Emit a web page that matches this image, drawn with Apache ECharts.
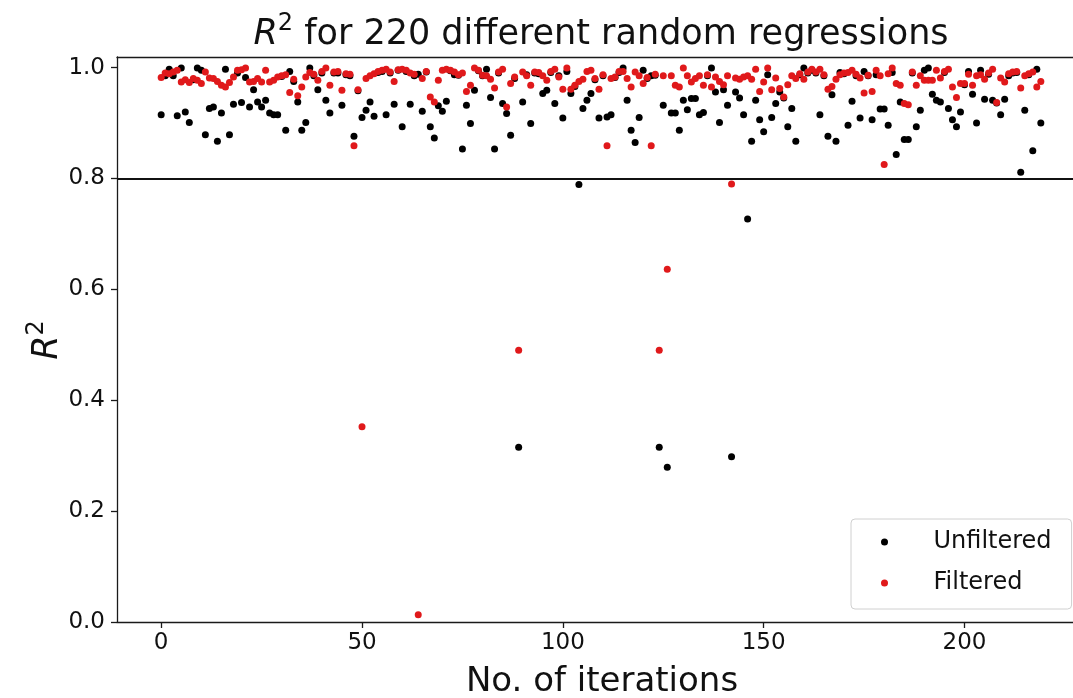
<!DOCTYPE html>
<html>
<head>
<meta charset="utf-8">
<script src="https://cdn.jsdelivr.net/npm/echarts@6/dist/echarts.min.js"></script>
<style>
  html, body { margin: 0; padding: 0; background: #ffffff; }
  #chart { width: 1073px; height: 698px; }
</style>
</head>
<body>
<div id="chart"></div>
<script>
// R^2 of each regression run, before and after filtering
const unfiltered = [
  0.915, 0.985, 0.997, 0.985, 0.913, 0.999, 0.920, 0.901, 0.978, 0.999,
  0.995, 0.879, 0.926, 0.929, 0.867, 0.918, 0.997, 0.879, 0.934, 0.990,
  0.937, 0.982, 0.929, 0.960, 0.938, 0.929, 0.941, 0.918, 0.915, 0.915,
  0.984, 0.887, 0.993, 0.975, 0.938, 0.887, 0.901, 0.999, 0.985, 0.960,
  0.990, 0.941, 0.918, 0.990, 0.990, 0.932, 0.987, 0.985, 0.876, 0.958,
  0.910, 0.923, 0.938, 0.912, 0.991, 0.993, 0.915, 0.990, 0.934, 0.995,
  0.893, 0.993, 0.934, 0.985, 0.988, 0.921, 0.992, 0.893, 0.873, 0.931,
  0.921, 0.939, 0.994, 0.987, 0.986, 0.853, 0.932, 0.899, 0.959, 0.994,
  0.985, 0.997, 0.946, 0.853, 0.990, 0.935, 0.917, 0.878, 0.980, 0.315,
  0.938, 0.987, 0.899, 0.990, 0.989, 0.953, 0.959, 0.991, 0.935, 0.985,
  0.909, 0.993, 0.953, 0.966, 0.789, 0.926, 0.941, 0.953, 0.978, 0.909,
  0.985, 0.911, 0.915, 0.982, 0.991, 0.999, 0.941, 0.887, 0.865, 0.910,
  0.995, 0.980, 0.985, 0.986, 0.315, 0.932, 0.279, 0.918, 0.918, 0.887,
  0.941, 0.924, 0.944, 0.944, 0.915, 0.919, 0.985, 0.999, 0.956, 0.901,
  0.960, 0.932, 0.298, 0.956, 0.945, 0.915, 0.727, 0.867, 0.941, 0.906,
  0.884, 0.987, 0.910, 0.935, 0.956, 0.945, 0.893, 0.926, 0.867, 0.987,
  0.999, 0.990, 0.995, 0.990, 0.915, 0.985, 0.876, 0.951, 0.867, 0.991,
  0.989, 0.896, 0.939, 0.985, 0.909, 0.993, 0.985, 0.906, 0.987, 0.925,
  0.925, 0.896, 0.991, 0.843, 0.938, 0.870, 0.870, 0.990, 0.893, 0.923,
  0.995, 0.999, 0.952, 0.941, 0.938, 0.991, 0.926, 0.906, 0.893, 0.920,
  0.969, 0.993, 0.952, 0.900, 0.995, 0.943, 0.988, 0.941, 0.936, 0.915,
  0.943, 0.985, 0.990, 0.991, 0.811, 0.923, 0.987, 0.850, 0.997, 0.900
];
const filtered = [
  0.982, 0.990, 0.989, 0.992, 0.995, 0.974, 0.978, 0.973, 0.980, 0.977,
  0.971, 0.992, 0.981, 0.980, 0.975, 0.968, 0.965, 0.973, 0.983, 0.995,
  0.996, 0.999, 0.974, 0.975, 0.980, 0.974, 0.995, 0.974, 0.977, 0.983,
  0.985, 0.987, 0.955, 0.979, 0.949, 0.965, 0.983, 0.991, 0.988, 0.977,
  0.993, 0.999, 0.968, 0.992, 0.993, 0.959, 0.989, 0.988, 0.859, 0.960,
  0.352, 0.980, 0.985, 0.989, 0.993, 0.995, 0.997, 0.992, 0.975, 0.996,
  0.997, 0.995, 0.990, 0.988, 0.013, 0.980, 0.993, 0.947, 0.938, 0.977,
  0.995, 0.997, 0.995, 0.992, 0.987, 0.990, 0.957, 0.968, 0.999, 0.995,
  0.986, 0.985, 0.979, 0.963, 0.992, 0.997, 0.929, 0.971, 0.983, 0.490,
  0.992, 0.985, 0.968, 0.992, 0.991, 0.985, 0.977, 0.993, 0.997, 0.983,
  0.961, 0.999, 0.961, 0.968, 0.975, 0.979, 0.993, 0.995, 0.980, 0.961,
  0.987, 0.859, 0.980, 0.983, 0.993, 0.993, 0.980, 0.965, 0.992, 0.985,
  0.971, 0.982, 0.859, 0.988, 0.490, 0.985, 0.636, 0.985, 0.968, 0.965,
  0.999, 0.985, 0.974, 0.980, 0.985, 0.968, 0.987, 0.965, 0.983, 0.975,
  0.969, 0.985, 0.790, 0.981, 0.979, 0.983, 0.985, 0.979, 0.997, 0.957,
  0.974, 0.999, 0.960, 0.981, 0.962, 0.947, 0.969, 0.985, 0.980, 0.989,
  0.979, 0.992, 0.997, 0.992, 0.997, 0.987, 0.961, 0.966, 0.979, 0.987,
  0.990, 0.991, 0.995, 0.988, 0.981, 0.954, 0.986, 0.957, 0.995, 0.985,
  0.825, 0.989, 0.999, 0.971, 0.968, 0.935, 0.933, 0.992, 0.968, 0.985,
  0.977, 0.977, 0.977, 0.995, 0.981, 0.993, 0.997, 0.965, 0.946, 0.971,
  0.971, 0.988, 0.968, 0.985, 0.987, 0.979, 0.990, 0.997, 0.937, 0.981,
  0.974, 0.989, 0.992, 0.993, 0.963, 0.985, 0.989, 0.992, 0.965, 0.975
];
// iteration number of each run
const iterations = unfiltered.map((_, i) => i);

const xTicks = [0, 50, 100, 150, 200];
const yTicks = [0.0, 0.2, 0.4, 0.6, 0.8, 1.0];
const threshold = 0.8;

const FONT = 'DejaVu Sans';
const INK = '#1a1a1a';
const X_MIN = -11, X_MAX = 230, Y_MIN = 0, Y_MAX = 1.019;

const chart = echarts.init(document.getElementById('chart'), null, { renderer: 'canvas' });

const frameLine = { show: true, onZero: false, lineStyle: { color: INK, width: 1.3 } };

chart.setOption({
  animation: false,
  backgroundColor: '#ffffff',
  grid: {
    left: 117, right: -12, top: 57, bottom: 76,
    outerBoundsMode: 'none', containLabel: false
  },
  xAxis: [
    {
      type: 'value', min: X_MIN, max: X_MAX, position: 'bottom',
      axisLine: frameLine,
      axisTick: { show: true, customValues: xTicks, length: 6, lineStyle: { color: INK, width: 1.3 } },
      axisLabel: { customValues: xTicks, fontSize: 23, color: '#111', fontFamily: FONT, margin: 10 },
      splitLine: { show: false }
    },
    {
      // top edge of the frame
      type: 'value', min: X_MIN, max: X_MAX, position: 'top',
      axisLine: frameLine,
      axisTick: { show: false }, axisLabel: { show: false }, splitLine: { show: false }
    }
  ],
  yAxis: {
    type: 'value', min: Y_MIN, max: Y_MAX, position: 'left',
    axisLine: frameLine,
    axisTick: { show: true, customValues: yTicks, length: 6, lineStyle: { color: INK, width: 1.3 } },
    axisLabel: {
      customValues: yTicks, fontSize: 23, color: '#111', fontFamily: FONT, margin: 12,
      formatter: v => v.toFixed(1)
    },
    splitLine: { show: false }
  },
  legend: {
    orient: 'vertical', left: 851, top: 519,
    padding: [9, 20, 12, 30],
    itemWidth: 14, itemHeight: 7, itemGap: 13,
    icon: 'circle',
    backgroundColor: '#ffffff', borderColor: '#d0d0d0', borderWidth: 1, borderRadius: 4,
    textStyle: { fontSize: 24, color: '#111', fontFamily: FONT, lineHeight: 28, padding: [0, 0, 0, 37] },
    data: ['Unfiltered', 'Filtered']
  },
  series: [
    {
      name: 'Unfiltered', type: 'scatter', symbolSize: 7,
      itemStyle: { color: '#000000', opacity: 1 },
      data: iterations.map((x, i) => [x, unfiltered[i]]),
      markLine: {
        silent: true, symbol: 'none', label: { show: false },
        lineStyle: { color: '#111', width: 2, type: 'solid' },
        data: [{ yAxis: threshold }]
      }
    },
    {
      name: 'Filtered', type: 'scatter', symbolSize: 7,
      itemStyle: { color: '#e0191b', opacity: 1 },
      data: iterations.map((x, i) => [x, filtered[i]])
    }
  ],
  graphic: [
    {
      type: 'text', x: 601, y: 32,
      style: {
        text: '{i|R}{s|2}{n| for 220 different random regressions}',
        align: 'center', verticalAlign: 'middle',
        rich: {
          i: { fontSize: 35, fontStyle: 'italic', fontFamily: FONT, fill: '#111', lineHeight: 40, verticalAlign: 'bottom' },
          s: { fontSize: 24, fontFamily: FONT, fill: '#111', lineHeight: 23, verticalAlign: 'top' },
          n: { fontSize: 35, fontFamily: FONT, fill: '#111', lineHeight: 40, verticalAlign: 'bottom' }
        }
      }
    },
    {
      type: 'text', x: 602, y: 682,
      style: {
        text: 'No. of iterations', align: 'center', verticalAlign: 'middle',
        fontSize: 34, fontFamily: FONT, fill: '#111'
      }
    },
    {
      type: 'text', x: 45, y: 340, rotation: Math.PI / 2,
      style: {
        text: '{i|R}{s|2}', align: 'center', verticalAlign: 'middle',
        rich: {
          i: { fontSize: 35, fontStyle: 'italic', fontFamily: FONT, fill: '#111', lineHeight: 40, verticalAlign: 'bottom' },
          s: { fontSize: 24, fontFamily: FONT, fill: '#111', lineHeight: 23, verticalAlign: 'top' }
        }
      }
    }
  ]
});
</script>
</body>
</html>
